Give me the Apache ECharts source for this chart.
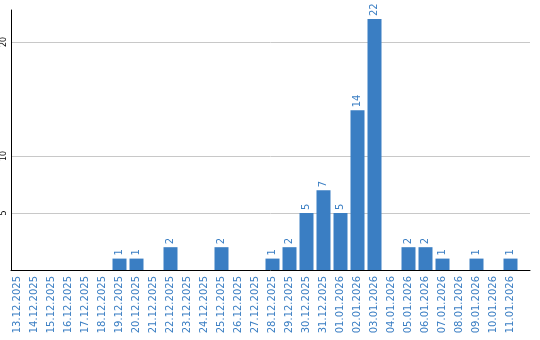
<!DOCTYPE html>
<html>
<head>
<meta charset="utf-8">
<script src="https://cdn.jsdelivr.net/npm/echarts@6/dist/echarts.min.js"></script>
<style>html,body{margin:0;padding:0;background:#fff}#c{width:540px;height:340px}</style>
</head>
<body>
<div id="c"></div>
<script>
const categories = ['13.12.2025','14.12.2025','15.12.2025','16.12.2025','17.12.2025','18.12.2025','19.12.2025','20.12.2025','21.12.2025','22.12.2025','23.12.2025','24.12.2025','25.12.2025','26.12.2025','27.12.2025','28.12.2025','29.12.2025','30.12.2025','31.12.2025','01.01.2026','02.01.2026','03.01.2026','04.01.2026','05.01.2026','06.01.2026','07.01.2026','08.01.2026','09.01.2026','10.01.2026','11.01.2026'];
const values = [0,0,0,0,0,0,1,1,0,2,0,0,2,0,0,1,2,5,7,5,14,22,0,2,2,1,0,1,0,1];
const yTickLabels = [5,10,20];

const blue = '#3a7ec3';
const chart = echarts.init(document.getElementById('c'));
chart.setOption({
  animation: false,
  grid: [
    {left: 10, right: 10, top: 10, bottom: 70},
    {left: 9, right: 21, top: 10, bottom: 70}
  ],
  xAxis: [
    {gridIndex: 0, type: 'category', data: categories,
     axisLine: {show: true, lineStyle: {color: '#000', width: 1}},
     axisTick: {show: false}, axisLabel: {show: false}, splitLine: {show: false}},
    {gridIndex: 1, type: 'category', data: categories,
     axisLine: {show: false}, axisTick: {show: false},
     axisLabel: {interval: 0, rotate: 90, margin: 6, color: blue, fontSize: 10, fontFamily: 'DejaVu Sans'}}
  ],
  yAxis: [
    {gridIndex: 0, type: 'value', min: 0, max: 22.8, interval: 5,
     axisLine: {show: true, lineStyle: {color: '#000', width: 1}},
     axisTick: {show: false},
     axisLabel: {rotate: 90, margin: 3, color: '#000', fontSize: 8, fontFamily: 'DejaVu Sans',
       formatter: v => yTickLabels.indexOf(v) >= 0 ? String(v) : ''},
     splitLine: {show: true, lineStyle: {color: ['rgba(0,0,0,0)', '#c8c8c8', '#c8c8c8', 'rgba(0,0,0,0)', '#c8c8c8', 'rgba(0,0,0,0)'], width: 1}}},
    {gridIndex: 1, type: 'value', min: 0, max: 22.8, show: false, splitLine: {show: false}}
  ],
  series: [{
    type: 'bar', xAxisIndex: 1, yAxisIndex: 1, data: values, barWidth: 14,
    itemStyle: {color: blue},
    label: {show: true, position: 'top', rotate: 90, align: 'left', verticalAlign: 'middle', distance: 3,
      color: blue, fontSize: 10, fontFamily: 'DejaVu Sans',
      formatter: p => p.value ? String(p.value) : ''}
  }]
});
</script>
</body>
</html>
